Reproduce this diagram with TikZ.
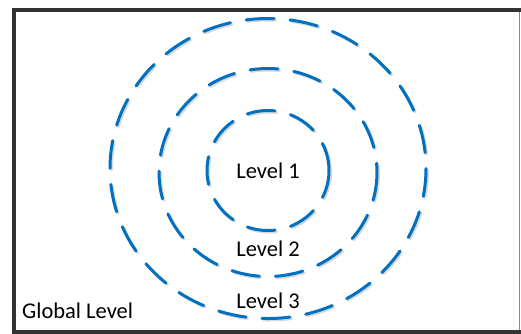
\documentclass[tikz,border=0pt]{standalone}
\usepackage{fontspec}
\setmainfont{Carlito}
\definecolor{ringblue}{HTML}{0070C0}
\definecolor{framegray}{HTML}{333333}
\tikzset{
  ring/.style={draw=ringblue, line width=3pt, dash pattern=on 28pt off 16pt, line cap=round},
  ringshadow/.style={draw=black!15, line width=3pt, dash pattern=on 28pt off 16pt, line cap=round},
  lbl/.style={font=\fontsize{22.5}{26}\selectfont, text=black, inner sep=0pt}
}
\begin{document}
\begin{tikzpicture}[x=1pt,y=-1pt]
\useasboundingbox (0,0) rectangle (521,333);
\clip (0,0) rectangle (521,333);
\fill[white] (0,0) rectangle (521,333);
\draw[framegray, line width=4pt] (14,10) rectangle (523,332);
\draw[black!45, line width=1pt] (519.5,12) -- (519.5,330);
% shadows
\draw[ringshadow] (269.5,170) ellipse [x radius=158, y radius=150];
\draw[ringshadow] (269.5,174) ellipse [x radius=109, y radius=104];
\draw[ringshadow] (269.5,172) ellipse [x radius=61, y radius=60];
% rings
\draw[ring] (268,168.5) ellipse [x radius=158, y radius=150];
\draw[ring] (268,172.5) ellipse [x radius=109, y radius=104];
\draw[ring] (268,170.5) ellipse [x radius=61, y radius=60];
\node[lbl] (l1) at (268,171) {Level 1};
\node[lbl] (l2) at (268,249) {Level 2};
\node[lbl] (l3) at (268,301) {Level 3};
\node[lbl, anchor=west] (gl) at (22,311) {Global Level};
\end{tikzpicture}
\end{document}
